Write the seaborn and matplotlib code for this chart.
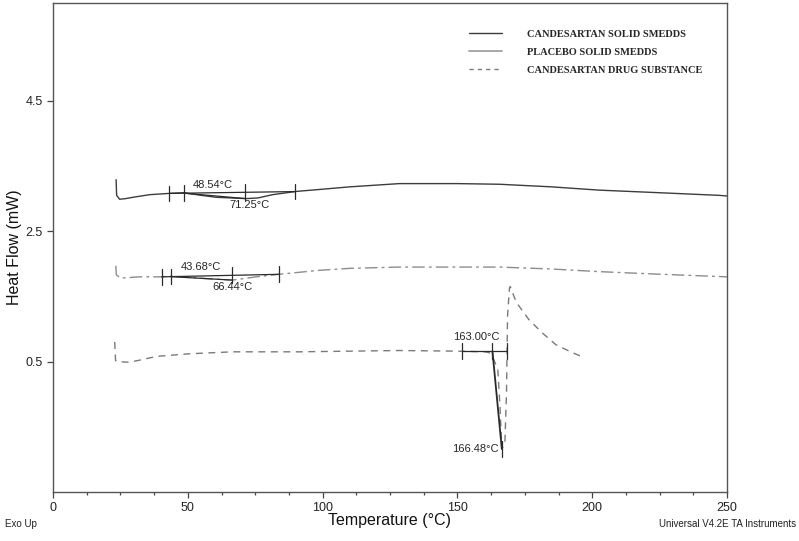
import numpy as np
import pandas as pd
import matplotlib
matplotlib.use("Agg")
import matplotlib.pyplot as plt
from matplotlib.lines import Line2D
from matplotlib.ticker import MultipleLocator
import seaborn as sns

# DSC traces (temperature in degC, heat flow in mW)
temp_smedds = [23.4, 23.6, 24.7, 27, 29.6, 35.8, 43.2, 48.5, 55, 60.6, 66, 71.7, 76, 81.4,
               90.2, 98.8, 110, 128.5, 150, 165.6, 185, 202.5, 225, 247, 250]
hf_smedds = [3.29, 3.05, 2.99, 3.00, 3.02, 3.06, 3.08, 3.09, 3.05, 3.02, 3.01, 3.00, 3.01, 3.06,
             3.11, 3.14, 3.18, 3.23, 3.23, 3.22, 3.18, 3.13, 3.09, 3.05, 3.04]

temp_placebo = [23.3, 23.5, 25.1, 32, 40.3, 44, 51, 58, 66.6, 75.4, 84, 91.4, 98.8, 110,
                128.5, 150, 165.6, 185, 202.5, 225, 244, 250]
hf_placebo = [1.97, 1.83, 1.78, 1.80, 1.80, 1.81, 1.79, 1.77, 1.75, 1.80, 1.84, 1.87, 1.90, 1.93,
              1.95, 1.95, 1.95, 1.92, 1.88, 1.84, 1.81, 1.80]

temp_drug = [22.9, 23.2, 23.6, 28.4, 33, 38.4, 50.6, 66.6, 91.4, 128.4, 150, 160, 161.7, 163.5,
             165, 165.8, 166.5, 167.6, 168.2, 168.6, 169.3, 169.6, 170.5, 172, 176.6, 181.5,
             186.5, 192, 197]
hf_drug = [0.80, 0.52, 0.50, 0.49, 0.53, 0.58, 0.62, 0.65, 0.65, 0.67, 0.66, 0.65, 0.64, 0.53,
           0.38, -0.20, -0.84, -0.75, 0.0, 1.20, 1.62, 1.65, 1.55, 1.40, 1.14, 0.94,
           0.76, 0.65, 0.56]

legend_labels = ["CANDESARTAN SOLID SMEDDS", "PLACEBO SOLID SMEDDS", "CANDESARTAN DRUG SUBSTANCE"]

# transition analysis limits / results
smedds_marks = [43.2, 48.54, 71.25, 89.8]
placebo_marks = [40.3, 43.68, 66.44, 83.7]
drug_marks = [151.7, 163.0, 168.3]
drug_peak = 166.48

sns.set_theme(style="ticks")
plt.rcParams["font.family"] = ["Liberation Sans", "DejaVu Sans"]

fig = plt.figure(figsize=(7.99, 5.41), dpi=100)
ax = fig.add_axes([53 / 799, 49 / 541, 674 / 799, 489 / 541])

df1 = pd.DataFrame({"T": temp_smedds, "HF": hf_smedds})
df2 = pd.DataFrame({"T": temp_placebo, "HF": hf_placebo})
df3 = pd.DataFrame({"T": temp_drug, "HF": hf_drug})

c1, c2, c3 = "#3c3c3c", "#8c8c8c", "#7a7a7a"
sns.lineplot(data=df1, x="T", y="HF", ax=ax, color=c1, lw=1.0, sort=False, estimator=None)
sns.lineplot(data=df2, x="T", y="HF", ax=ax, color=c2, lw=1.0, sort=False, estimator=None,
             linestyle=(0, (9, 3, 2, 3)))
sns.lineplot(data=df3, x="T", y="HF", ax=ax, color=c3, lw=1.0, sort=False, estimator=None,
             linestyle=(0, (5, 4)))

tick_h = 0.12
ann = dict(color="#2a2a2a", lw=0.9)


def analysis(marks, temps, hfs):
    y0 = np.interp(marks[0], temps, hfs)
    y1 = np.interp(marks[-1], temps, hfs)
    ax.plot([marks[0], marks[-1]], [y0, y1], **ann)
    # onset extrapolation from onset mark down to the dip
    yo = y0 + (y1 - y0) * (marks[1] - marks[0]) / (marks[-1] - marks[0])
    yd = np.interp(marks[2], temps, hfs)
    ax.plot([marks[1], marks[2]], [yo, yd], **ann)
    for m in marks:
        ym = y0 + (y1 - y0) * (m - marks[0]) / (marks[-1] - marks[0])
        ax.plot([m, m], [ym - tick_h, ym + tick_h], **ann)
    return y0


analysis(smedds_marks, temp_smedds, hf_smedds)
analysis(placebo_marks, temp_placebo, hf_placebo)

# drug substance melting analysis
yb = np.interp(drug_marks[0], temp_drug, hf_drug)
ax.plot([drug_marks[0], drug_marks[-1]], [yb, yb], **ann)
for m in drug_marks:
    ax.plot([m, m], [yb - tick_h, yb + tick_h], **ann)
ymin = min(hf_drug)
ax.plot([drug_marks[1], drug_peak], [yb, ymin], color="#2a2a2a", lw=1.3)
ax.plot([drug_peak, drug_peak], [ymin - tick_h, ymin + tick_h], **ann)

fs = 8
ax.text(59.1, 3.21, f"{smedds_marks[1]:.2f}°C", fontsize=fs, ha="center", va="center")
ax.text(72.8, 2.90, f"{smedds_marks[2]:.2f}°C", fontsize=fs, ha="center", va="center")
ax.text(55.0, 1.95, f"{placebo_marks[1]:.2f}°C", fontsize=fs, ha="center", va="center")
ax.text(66.6, 1.65, f"{placebo_marks[2]:.2f}°C", fontsize=fs, ha="center", va="center")
ax.text(156.9, 0.87, f"{drug_marks[1]:.2f}°C", fontsize=fs, ha="center", va="center")
ax.text(165.5, ymin, f"{drug_peak:.2f}°C", fontsize=fs, ha="right", va="center")

ax.set_xlim(0, 250)
ax.set_ylim(-1.5, 6.0)
ax.set_xticks([0, 50, 100, 150, 200, 250])
ax.xaxis.set_minor_locator(MultipleLocator(12.5))
ax.set_yticks([0.5, 2.5, 4.5])
ax.tick_params(axis="both", which="major", length=4, width=0.9, color="#444444",
               labelsize=9, labelcolor="#222222")
ax.tick_params(axis="x", which="minor", length=2, width=0.9, color="#444444")
for s in ax.spines.values():
    s.set_visible(True)
    s.set_color("#555555")
    s.set_linewidth(1.0)

ax.set_xlabel("Temperature (°C)", fontsize=11.5, color="#111111")
ax.set_ylabel("Heat Flow (mW)", fontsize=11.5, color="#111111")
ax.xaxis.set_label_coords(0.5, -0.043)
ax.yaxis.set_label_coords(-0.046, 0.5)

handles = [Line2D([], [], color=c1, lw=1.0),
           Line2D([], [], color="#a0a0a0", lw=1.3),
           Line2D([], [], color=c3, lw=1.0, linestyle=(0, (3, 3)))]
leg = ax.legend(handles, legend_labels, loc="upper left", bbox_to_anchor=(0.603, 0.965),
                frameon=False, handlelength=3.2, handletextpad=2.4, labelspacing=0.85,
                prop={"family": ["Liberation Serif"], "weight": "bold", "size": 7.5})

fig.text(0.006, 0.031, "Exo Up", fontsize=7, ha="left", va="center", color="#222222")
fig.text(0.997, 0.031, "Universal V4.2E TA Instruments", fontsize=7, ha="right",
         va="center", color="#222222")

fig.savefig("out.png", dpi=100, facecolor="white")
